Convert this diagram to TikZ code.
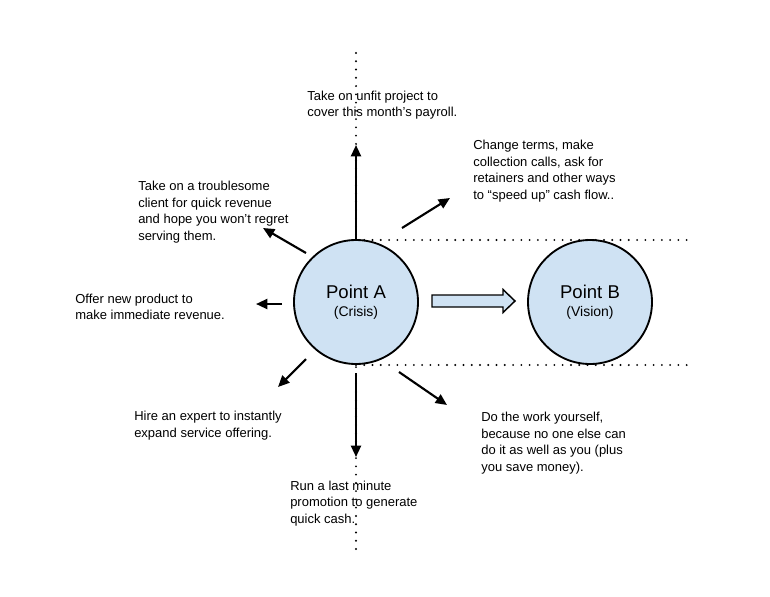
\documentclass[tikz,border=0pt]{standalone}
\usepackage{fontspec}
\setmainfont{Liberation Sans}
\usetikzlibrary{arrows.meta}
\definecolor{circfill}{HTML}{CFE2F3}
\tikzset{
  dotline/.style={line width=1.6pt, dash pattern=on 0pt off 6.2pt, line cap=round},
  pointcirc/.style={circle, draw, line width=1.4pt, fill=circfill, minimum size=93pt, inner sep=0pt, align=center},
  arr/.style={line width=1.6pt, -{Triangle[length=8.5pt,width=7.5pt]}},
  lbl/.style={anchor=west, inner sep=0pt, align=left, font=\fontsize{9.75}{12.4}\selectfont},
  blockarrow/.style={draw, line width=1.1pt, fill=circfill}
}
\begin{document}
\begin{tikzpicture}[x=0.75pt,y=-0.75pt]
\useasboundingbox (0,0) rectangle (770,596);
% dotted guides
\coordinate (vt) at (356,53);
\coordinate (vb) at (356,552);
\coordinate (ht1) at (356,240);
\coordinate (ht2) at (688,240);
\coordinate (hb1) at (356,365);
\coordinate (hb2) at (688,365);
\draw[dotline] (vt) -- (vb);
\draw[dotline] (ht1) -- (ht2);
\draw[dotline] (hb1) -- (hb2);
% circles
\node[pointcirc] (A) at (356,302) {{\fontsize{13.9}{16}\selectfont Point A}\\[1.5pt]{\fontsize{10.5}{13}\selectfont (Crisis)}};
\node[pointcirc] (B) at (590,302) {{\fontsize{13.9}{16}\selectfont Point B}\\[1.5pt]{\fontsize{10.5}{13}\selectfont (Vision)}};
% block arrow
\draw[blockarrow] (432,295) -- (503,295) -- (503,289.5) -- (515,301) -- (503,312.5) -- (503,307) -- (432,307) -- cycle;
% arrow end points
\coordinate (n1) at (356,240);  \coordinate (n2) at (356,145);
\coordinate (ne1) at (402,228); \coordinate (ne2) at (450,198);
\coordinate (nw1) at (306,253); \coordinate (nw2) at (263,228);
\coordinate (w1) at (282,304);  \coordinate (w2) at (256,304);
\coordinate (sw1) at (306,359); \coordinate (sw2) at (278,387);
\coordinate (s1) at (356,373);  \coordinate (s2) at (356,457);
\coordinate (se1) at (399,372); \coordinate (se2) at (447,405);
\draw[arr] (n1) -- (n2);
\draw[arr] (ne1) -- (ne2);
\draw[arr] (nw1) -- (nw2);
\draw[arr] (w1) -- (w2);
\draw[arr] (sw1) -- (sw2);
\draw[arr] (s1) -- (s2);
\draw[arr] (se1) -- (se2);
% labels
\node[lbl] (tN) at (307,105) {Take on unfit project to\\cover this month's payroll.};
\node[lbl] (tNE) at (473,171) {Change terms, make\\collection calls, ask for\\retainers and other ways\\to “speed up” cash flow..};
\node[lbl] (tNW) at (138,212) {Take on a troublesome\\client for quick revenue\\and hope you won’t regret\\serving them.};
\node[lbl] (tW) at (75,307) {Offer new product to\\make immediate revenue.};
\node[lbl] (tSW) at (134,425.5) {Hire an expert to instantly\\expand service offering.};
\node[lbl] (tS) at (290,503.5) {Run a last minute\\promotion to generate\\quick cash.};
\node[lbl] (tSE) at (481,443) {Do the work yourself,\\because no one else can\\do it as well as you (plus\\you save money).};
\end{tikzpicture}
\end{document}
